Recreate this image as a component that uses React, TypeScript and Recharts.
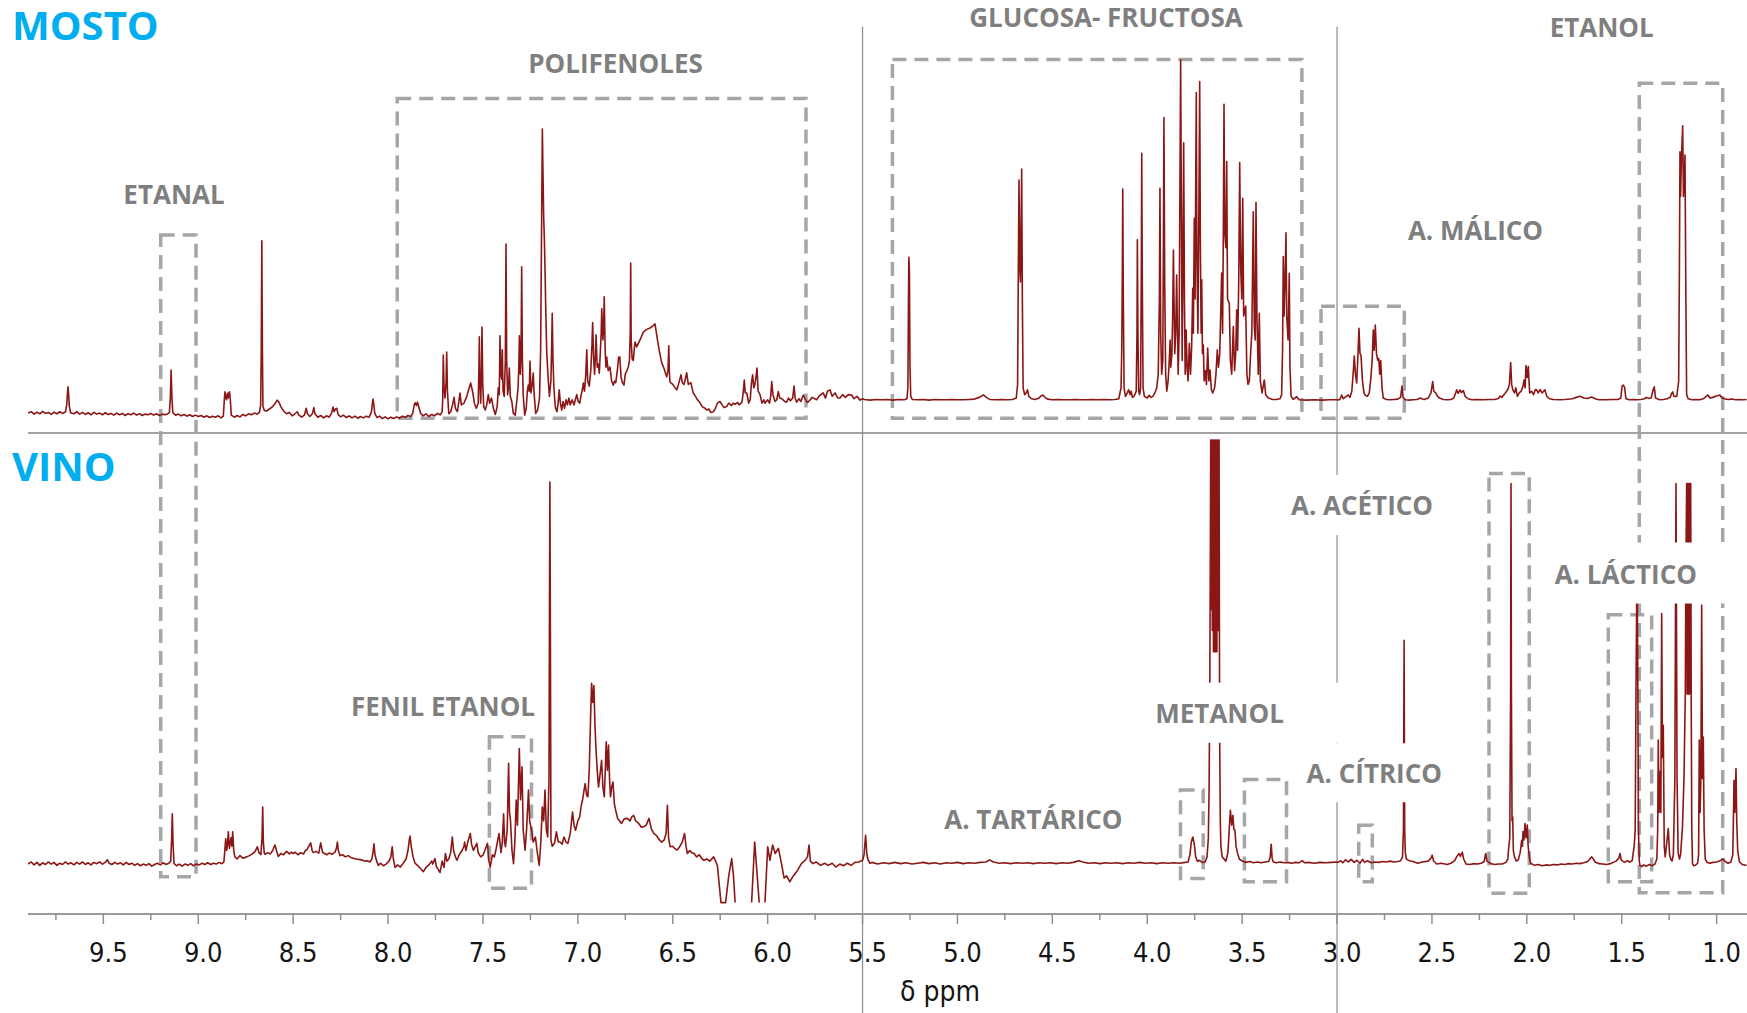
import React from 'react';
import { ComposedChart, Line, XAxis, YAxis, ReferenceLine, ReferenceArea, ReferenceDot } from 'recharts';

type Pt = [number, number | null];

// ---------- MOSTO spectrum: [δ ppm, intensity] ----------
const MOSTO_AROMATIC: Pt[] = [
  [9.897,-3.4],[9.88,-3.0],[9.865,-3.7],[9.85,-3.1],[9.835,-3.6],[9.82,-2.9],[9.805,-3.5],[9.79,-3.2],[9.775,-3.8],[9.76,-3.1],
  [9.745,-3.6],[9.73,-3.0],[9.715,-3.5],[9.70,-3.1],[9.693,-1.0],[9.689,2.5],[9.686,4.3],[9.683,2.0],[9.679,-1.5],[9.672,-3.3],
  [9.655,-3.6],[9.64,-3.0],[9.625,-3.7],[9.61,-3.2],[9.595,-3.8],[9.58,-3.3],[9.565,-3.9],[9.55,-3.2],[9.535,-3.7],[9.52,-3.4],
  [9.505,-3.9],[9.49,-3.3],[9.475,-3.8],[9.46,-3.5],[9.445,-4.0],[9.43,-3.4],[9.415,-3.9],[9.40,-3.5],[9.385,-4.1],[9.37,-3.6],
  [9.355,-3.9],[9.34,-3.4],[9.325,-4.0],[9.31,-3.6],[9.295,-4.1],[9.28,-3.7],[9.265,-3.9],[9.25,-3.5],[9.235,-4.0],[9.22,-3.6],
  [9.205,-4.1],[9.19,-3.7],[9.175,-3.9],[9.16,-3.6],[9.152,-3.2],[9.147,1.0],[9.143,9.2],[9.139,1.5],[9.134,-3.3],[9.12,-4.0],
  [9.105,-3.7],[9.09,-4.2],[9.075,-3.8],[9.06,-4.3],[9.045,-3.9],[9.03,-4.4],[9.015,-4.0],[9.0,-4.4],[8.985,-4.1],[8.97,-4.6],
  [8.955,-4.2],[8.94,-4.7],[8.925,-4.3],[8.91,-4.6],[8.895,-4.2],[8.88,-4.8],[8.868,-4.3],[8.862,1.0],[8.859,2.8],[8.855,1.2],
  [8.851,0.5],[8.846,2.4],[8.842,1.0],[8.838,2.6],[8.835,2.8],[8.831,0.5],[8.826,-4.0],[8.81,-4.6],[8.795,-4.1],[8.78,-4.5],
  [8.765,-3.8],[8.75,-4.2],[8.735,-3.6],[8.72,-3.9],[8.705,-3.4],[8.69,-3.7],[8.678,-3.2],[8.671,-1.0],[8.668,15],[8.665,47],
  [8.662,15],[8.659,-1.5],[8.652,-2.6],[8.64,-2.8],[8.625,-2.2],[8.61,-1.6],[8.595,-0.6],[8.584,0.4],[8.575,-0.2],[8.565,-1.5],
  [8.55,-2.8],[8.535,-3.6],[8.52,-3.2],[8.505,-4.2],[8.49,-3.6],[8.478,-3.0],[8.47,-4.0],[8.455,-4.6],[8.44,-3.9],[8.431,-2.0],
  [8.425,-3.6],[8.412,-4.4],[8.398,-3.5],[8.391,-1.8],[8.385,-3.6],[8.37,-4.6],[8.355,-4.1],[8.34,-4.8],[8.325,-4.2],[8.31,-4.6],
  [8.298,-3.5],[8.29,-1.6],[8.284,-3.0],[8.277,-2.2],[8.270,-2.0],[8.263,-3.8],[8.25,-4.5],[8.235,-4.0],[8.22,-4.7],[8.205,-4.2],
  [8.19,-4.8],[8.175,-4.3],[8.16,-4.9],[8.145,-4.4],[8.13,-4.8],[8.115,-4.3],[8.10,-4.6],[8.088,-3.2],[8.082,-0.5],[8.079,0.7],
  [8.076,-0.5],[8.07,-3.5],[8.058,-4.7],[8.045,-4.3],[8.03,-5.0],[8.015,-4.5],[8.0,-5.1],[7.985,-4.6],[7.97,-5.0],[7.955,-4.5],
  [7.94,-4.9],[7.925,-4.3],[7.91,-4.6],[7.895,-4.1],[7.88,-4.4],[7.87,-3.5],[7.862,-1.0],[7.857,-0.4],[7.85,-1.2],[7.845,-0.2],
  [7.838,-1.6],[7.828,-3.5],[7.815,-4.2],[7.80,-3.6],[7.785,-4.4],[7.77,-3.8],[7.755,-4.2],[7.74,-3.5],[7.725,-3.9],[7.715,-3.0],
];

const MOSTO_POLYPHENOL: Pt[] = [
  [7.712,0.5],[7.709,13.6],[7.705,4.0],[7.700,1.0],[7.694,6.0],[7.691,14.5],[7.687,3.0],[7.680,-3.6],[7.67,-3.0],[7.66,-1.0],
  [7.6525,1.2],[7.645,-2.0],[7.635,-3.0],[7.628,-0.5],[7.621,2.5],[7.614,-1.0],[7.60,-0.5],[7.585,1.5],[7.575,3.5],[7.5645,5.4],
  [7.555,3.0],[7.545,-0.5],[7.535,-2.0],[7.525,-0.5],[7.521,10],[7.519,18.9],[7.516,6],[7.512,-0.5],[7.508,8],[7.505,21.8],
  [7.501,5],[7.496,-1.5],[7.488,-2.5],[7.48,-1.0],[7.472,2.0],[7.465,-0.5],[7.455,1.0],[7.445,-2.0],[7.435,-3.8],[7.425,-1.5],
  [7.419,4.0],[7.414,2.0],[7.410,19.2],[7.406,8.0],[7.401,6.5],[7.398,15.1],[7.394,3.0],[7.388,1.5],[7.382,12.0],[7.3785,46.1],
  [7.375,12.0],[7.370,2.0],[7.365,4.0],[7.361,9.8],[7.356,1.5],[7.348,0.0],[7.34,-3.5],[7.33,-4.0],[7.322,0.0],[7.315,4.0],
  [7.311,10.0],[7.308,19.2],[7.303,8.0],[7.299,14.0],[7.296,39.4],[7.292,12.0],[7.288,2.0],[7.28,-4.0],[7.272,-2.0],[7.266,3.0],
  [7.261,4.8],[7.256,3.0],[7.252,11.8],[7.247,2.5],[7.24,5.0],[7.235,8.3],[7.23,2.0],[7.222,-3.5],[7.212,-2.5],[7.202,1.0],
  [7.196,15.0],[7.194,30.0],[7.190,58.0],[7.187,79.7],[7.184,68.0],[7.180,54.0],[7.176,46.8],[7.172,36.0],[7.169,26.8],[7.164,14.6],
  [7.158,8.3],[7.150,1.5],[7.142,6.0],[7.138,16.0],[7.135,25.8],[7.131,12.0],[7.126,4.0],[7.12,-1.0],[7.117,-2.0],[7.11,-3.0],
  [7.104,-0.5],[7.098,3.4],[7.092,-0.5],[7.085,-2.5],[7.078,0.0],[7.07,-2.0],[7.062,0.5],[7.055,-1.0],[7.047,1.0],[7.04,-1.0],
  [7.03,0.5],[7.02,-1.0],[7.013,0.5],[7.006,2.0],[6.998,0.0],[6.99,-0.5],[6.982,2.0],[6.976,3.5],[6.971,5.4],[6.965,3.0],
  [6.958,8.0],[6.953,15.1],[6.948,6.0],[6.94,4.5],[6.932,9.0],[6.926,16.0],[6.922,23.1],[6.917,13.0],[6.912,8.0],[6.907,14.0],
  [6.904,19.5],[6.898,10.0],[6.892,11.0],[6.887,8.3],[6.882,14.0],[6.877,20.0],[6.874,27.1],[6.868,18.0],[6.864,22.0],[6.861,30.6],
  [6.856,15.0],[6.852,10.0],[6.848,13.0],[6.84,9.0],[6.831,10.1],[6.822,6.0],[6.813,4.8],[6.806,6.0],[6.8,5.5],[6.792,9.0],
  [6.785,13.0],[6.779,13.0],[6.772,7.0],[6.765,5.5],[6.757,4.8],[6.75,8.0],[6.742,9.0],[6.734,10.1],[6.728,12.0],[6.724,20.0],
  [6.7215,40.5],[6.719,18.0],[6.714,12.5],[6.708,12.0],[6.699,17.4],[6.69,16.0],[6.6725,18.0],[6.655,20.3],[6.637,21.1],[6.62,21.5],
  [6.602,22.2],[6.5935,22.7],[6.5845,19.5],[6.572,15.1],[6.558,11.3],[6.545,9.5],[6.532,7.2],[6.525,9.0],[6.521,16.3],[6.518,9.0],
  [6.5145,5.7],[6.50,5.0],[6.49,4.2],[6.479,3.4],[6.47,5.0],[6.4565,7.8],[6.45,5.5],[6.44,5.0],[6.4265,8.4],[6.418,5.0],
  [6.405,5.5],[6.392,2.5],[6.38,1.5],[6.37,0.5],[6.356,-0.4],[6.345,-1.5],[6.33,-2.0],[6.321,-2.5],[6.31,-2.2],[6.30,-3.2],
  [6.286,-3.0],[6.275,-2.0],[6.265,-0.5],[6.251,0.0],[6.24,-1.0],[6.23,-1.8],[6.216,-1.5],[6.205,-0.5],[6.19,-1.2],[6.181,-0.5],
  [6.17,-0.8],[6.158,-0.3],[6.15,-1.0],[6.135,-0.2],[6.128,3.0],[6.123,6.3],[6.118,2.5],[6.11,2.5],[6.1,-0.5],[6.092,0.5],
  [6.085,5.5],[6.079,7.8],[6.073,4.0],[6.067,5.0],[6.063,6.5],[6.056,9.8],[6.05,3.0],[6.04,2.0],[6.03,-0.5],[6.02,0.5],
  [6.014,-0.5],[6.0,0.5],[5.99,-0.5],[5.984,1.5],[5.9785,5.8],[5.972,2.0],[5.961,0.0],[5.952,0.5],[5.944,2.9],[5.936,1.0],
  [5.925,0.8],[5.9175,0.4],[5.91,0.0],[5.9,-0.2],[5.89,1.0],[5.88,0.2],[5.868,1.0],[5.861,4.5],[5.855,1.0],[5.847,-0.2],
  [5.835,0.8],[5.825,0.0],[5.812,1.9],[5.80,0.5],[5.79,-0.3],[5.777,0.4],[5.765,1.2],[5.7415,0.5],[5.73,1.5],[5.72,2.0],
  [5.707,2.5],[5.695,1.0],[5.685,3.0],[5.6715,3.4],[5.66,1.5],[5.645,2.5],[5.63,1.0],[5.619,1.0],[5.605,2.0],[5.59,1.2],
  [5.575,2.0],[5.557,1.9],[5.545,0.8],[5.53,1.5],[5.513,0.4],[5.50,0.8],
];

const MOSTO_SUGARS: Pt[] = [
  [5.49,0.6],[5.46,0.4],[5.43,0.6],[5.40,0.5],[5.37,0.6],[5.34,0.4],[5.31,0.6],[5.28,0.5],[5.266,0.8],[5.261,4.0],
  [5.258,30],[5.256,42.2],[5.253,38],[5.250,10],[5.246,1.5],[5.238,0.6],[5.21,0.5],[5.18,0.6],[5.15,0.4],[5.12,0.6],
  [5.09,0.5],[5.06,0.5],[5.03,0.6],[5.0,0.5],[4.97,0.5],[4.94,0.6],[4.91,0.7],[4.885,1.2],[4.863,1.9],[4.848,1.2],
  [4.83,0.6],[4.80,0.5],[4.77,0.6],[4.74,0.5],[4.71,0.6],[4.69,1.0],[4.683,5],[4.679,40],[4.6757,64.8],[4.672,40],
  [4.668,35],[4.665,50],[4.6615,68.0],[4.658,30],[4.654,4.0],[4.646,2.0],[4.638,2.5],[4.631,3.4],[4.624,1.5],[4.61,0.8],
  [4.59,0.6],[4.57,1.0],[4.56,1.6],[4.55,1.9],[4.54,1.3],[4.525,0.7],[4.50,0.5],[4.47,0.6],[4.44,0.5],[4.41,0.5],
  [4.38,0.6],[4.35,0.5],[4.32,0.5],[4.29,0.6],[4.26,0.5],[4.23,0.6],[4.20,0.5],[4.17,0.6],[4.15,0.8],[4.138,4.0],
  [4.134,16.0],[4.131,40],[4.129,62.2],[4.126,30],[4.122,4.0],[4.115,1.5],[4.105,2.5],[4.098,3.4],[4.09,2.0],[4.085,3.0],
  [4.078,1.2],[4.07,1.5],[4.058,3.0],[4.054,20],[4.052,47.3],[4.049,20],[4.045,3.0],[4.04,2.0],[4.035,4.0],[4.031,40],
  [4.029,72.6],[4.026,35],[4.022,4.0],[4.015,1.5],[4.0,1.0],[3.99,1.8],[3.98,1.2],[3.97,1.5],[3.96,2.5],[3.95,4.0],
  [3.942,8.0],[3.936,30],[3.933,62.4],[3.929,20],[3.924,8.0],[3.918,12],[3.915,45],[3.912,83.1],[3.908,35],[3.903,8.0],
  [3.897,3.0],[3.89,6.0],[3.884,12],[3.879,18],[3.876,10],[3.87,14],[3.866,25],[3.862,44.3],[3.859,30],[3.855,14],
  [3.85,20],[3.845,37],[3.841,22],[3.837,8.0],[3.832,20],[3.828,60],[3.824,100],[3.82,55],[3.816,12],[3.812,40],
  [3.808,75.7],[3.804,30],[3.8,8],[3.795,20.9],[3.79,10],[3.785,6],[3.778,17],[3.772,8],[3.766,16],[3.7605,33.1],
  [3.757,20],[3.752,53.6],[3.748,30],[3.745,60],[3.7415,90.4],[3.738,40],[3.733,20],[3.728,55],[3.7236,93.6],[3.72,45],
  [3.716,20],[3.713,35.6],[3.709,14],[3.7046,16.5],[3.70,6],[3.694,9],[3.688,5],[3.6814,15.6],[3.675,6],[3.6693,9.2],
  [3.662,3.5],[3.655,2.5],[3.645,4.0],[3.638,8],[3.6309,15.1],[3.625,10],[3.618,14],[3.6077,37.6],[3.603,20],[3.599,50],
  [3.5955,87],[3.592,50],[3.586,45],[3.5813,70.2],[3.577,30],[3.5676,28.7],[3.562,12],[3.555,8],[3.5465,21.9],[3.54,9],
  [3.534,14],[3.5286,26.8],[3.524,15],[3.518,35],[3.5128,69.9],[3.508,40],[3.502,30],[3.497,59.5],[3.492,25],[3.4812,27.9],
  [3.475,8.2],[3.469,5],[3.462,6],[3.4549,14.6],[3.449,20],[3.4412,55.5],[3.436,22],[3.431,18],[3.427,58.3],[3.422,25],
  [3.415,8],[3.4096,25.8],[3.404,6],[3.395,2.5],[3.3832,6.3],[3.376,2.0],[3.362,1.0],[3.34,0.6],[3.32,0.6],[3.30,0.8],
  [3.292,2.0],[3.287,15],[3.2832,42.4],[3.279,25],[3.274,35],[3.269,49.4],[3.265,25],[3.258,18],[3.2516,37.5],[3.248,10],
  [3.242,1.5],[3.23,0.6],[3.2126,1.4],[3.20,0.5],[3.16,0.4],[3.12,0.5],[3.08,0.4],[3.04,0.5],[3.0,0.5],
];

const MOSTO_ALIPHATIC: Pt[] = [
  [2.995,0.4],[2.985,0.6],[2.9755,1.9],[2.968,0.8],[2.958,1.2],[2.9407,1.9],[2.932,1.2],[2.922,3.0],[2.914,9.0],[2.9091,13.3],
  [2.903,8.0],[2.8965,5.4],[2.891,12],[2.8844,21.4],[2.879,14],[2.8738,13.6],[2.866,6.0],[2.858,2.5],[2.8527,1.9],[2.84,1.5],
  [2.83,2.5],[2.8227,6.3],[2.815,12],[2.809,20.9],[2.804,15],[2.7985,22.4],[2.792,14],[2.786,12.1],[2.7805,12.6],[2.775,8],
  [2.77,12],[2.763,4],[2.7563,1.0],[2.74,0.6],[2.72,0.5],[2.70,0.6],[2.68,0.7],[2.665,1.2],[2.6578,4.5],[2.652,1.2],
  [2.64,0.5],[2.62,0.4],[2.60,0.5],[2.58,0.6],[2.56,1.0],[2.554,0.8],[2.54,0.6],[2.52,1.0],[2.505,2.5],[2.496,5.8],
  [2.49,3.0],[2.48,2.5],[2.47,1.5],[2.46,1.0],[2.44,0.6],[2.42,0.5],[2.40,0.6],[2.385,1.0],[2.375,2.5],[2.3696,3.4],
  [2.362,2.4],[2.3522,3.4],[2.345,2.6],[2.3348,3.2],[2.325,1.5],[2.31,0.8],[2.29,0.5],[2.26,0.6],[2.23,0.5],[2.20,0.6],
  [2.17,0.6],[2.15,0.9],[2.14,1.6],[2.1325,1.2],[2.12,2.0],[2.10,3.5],[2.092,5],[2.0851,11.4],[2.08,5.0],[2.074,3.5],
  [2.065,2.5],[2.058,4.0],[2.05,1.5],[2.04,2.5],[2.03,3.0],[2.02,4.5],[2.015,6.3],[2.009,4.0],[2.0045,10.5],[1.998,7.0],
  [1.9924,10.2],[1.985,2.5],[1.975,3.0],[1.965,2.0],[1.955,3.5],[1.9481,3.4],[1.94,2.5],[1.93,3.5],[1.92,2.5],[1.9044,3.4],
  [1.895,1.5],[1.88,0.8],[1.86,0.6],[1.83,0.5],[1.80,0.6],[1.76,0.8],[1.74,1.2],[1.72,1.5],[1.70,1.0],[1.68,0.9],
  [1.6583,1.3],[1.64,0.8],[1.62,0.5],[1.58,0.5],[1.55,0.6],[1.52,0.6],[1.505,1.0],[1.498,4.5],[1.4918,4.8],[1.485,4.2],
  [1.478,0.8],[1.46,0.5],[1.44,0.6],[1.42,0.5],[1.40,0.6],[1.38,0.8],[1.37,1.2],[1.36,0.9],[1.345,1.0],[1.334,3.5],
  [1.3285,4.3],[1.322,1.0],[1.30,0.5],[1.28,0.6],[1.26,0.8],[1.245,1.2],[1.236,2.5],[1.2316,2.8],[1.225,1.5],[1.21,1.5],
  [1.2,6],[1.196,40],[1.1931,73.1],[1.19,60],[1.186,70],[1.1789,80.7],[1.175,60],[1.171,65],[1.1667,72.1],[1.162,30],
  [1.158,2.0],[1.15,0.8],[1.13,0.5],[1.11,0.6],[1.09,0.5],[1.07,0.8],[1.055,1.5],[1.0456,1.9],[1.035,1.0],[1.02,1.2],
  [1.005,1.5],[0.9823,1.9],[0.975,1.2],[0.96,0.8],[0.94,0.6],[0.92,0.7],[0.90,0.5],[0.88,0.6],[0.86,0.5],[0.842,0.6],
];

// ---------- VINO spectrum: [δ ppm, intensity] (null = trace leaves the frame) ----------
const VINO_AROMATIC: Pt[] = [
  [9.897,-0.2],[9.88,0.3],[9.865,-0.4],[9.85,0.2],[9.835,-0.5],[9.82,0.1],[9.805,-0.3],[9.79,0.3],[9.775,-0.2],[9.76,0.2],
  [9.745,-0.5],[9.73,0.0],[9.715,-0.3],[9.70,0.3],[9.685,-0.2],[9.67,0.1],[9.655,-0.4],[9.64,0.2],[9.625,-0.2],[9.61,0.3],
  [9.595,-0.3],[9.58,0.1],[9.565,-0.4],[9.55,0.2],[9.535,-0.1],[9.52,0.3],[9.505,-0.2],[9.49,0.2],[9.478,0.8],[9.47,0.0],
  [9.455,-0.3],[9.44,0.2],[9.425,-0.2],[9.41,0.1],[9.395,-0.4],[9.38,0.2],[9.365,-0.3],[9.35,0.0],[9.335,-0.5],[9.32,-0.1],
  [9.305,-0.6],[9.29,-0.2],[9.275,-0.5],[9.26,-0.1],[9.245,-0.7],[9.23,-0.3],[9.215,0.0],[9.20,-0.4],[9.185,0.1],[9.17,-0.3],
  [9.155,0.0],[9.145,0.5],[9.14,6.0],[9.1367,11.7],[9.133,5.0],[9.128,0.0],[9.115,-0.6],[9.10,-0.2],[9.085,-0.7],[9.07,-0.2],
  [9.055,-0.5],[9.04,-0.1],[9.025,-0.6],[9.01,-0.2],[8.995,-0.4],[8.98,0.0],[8.965,-0.3],[8.95,0.1],[8.935,-0.3],[8.92,0.0],
  [8.905,-0.2],[8.89,0.2],[8.875,-0.1],[8.865,0.3],[8.86,3.0],[8.8553,5.8],[8.85,3.0],[8.846,4.5],[8.8416,7.4],[8.836,3.5],
  [8.8274,6.0],[8.823,4.0],[8.8185,7.4],[8.813,3.0],[8.807,1.5],[8.795,1.0],[8.78,1.8],[8.765,1.2],[8.745,1.5],[8.73,1.8],
  [8.715,2.2],[8.70,2.8],[8.689,3.9],[8.68,2.5],[8.67,2.0],[8.664,6],[8.6604,13.3],[8.657,5],[8.652,2.4],[8.648,2.1],
  [8.635,2.5],[8.62,2.2],[8.608,3.0],[8.596,4.3],[8.588,3.0],[8.578,1.6],[8.565,2.3],[8.55,2.0],[8.535,2.8],[8.52,2.2],
  [8.51,2.6],[8.499,2.3],[8.49,2.6],[8.475,2.0],[8.46,2.5],[8.445,2.2],[8.436,3.0],[8.429,3.1],[8.4075,4.8],[8.40,3.0],
  [8.394,2.5],[8.38,2.8],[8.365,2.4],[8.355,4.8],[8.345,2.6],[8.335,2.3],[8.323,2.0],[8.31,2.4],[8.295,2.1],[8.28,2.6],
  [8.272,3.5],[8.267,5.0],[8.262,3.0],[8.253,1.8],[8.24,2.0],[8.225,1.5],[8.21,1.8],[8.195,1.3],[8.183,1.2],[8.17,1.0],
  [8.155,0.9],[8.14,0.8],[8.125,0.5],[8.11,0.6],[8.095,0.3],[8.085,1.0],[8.078,3.0],[8.074,4.6],[8.069,2.0],[8.06,0.5],
  [8.051,-0.5],[8.04,0.0],[8.025,-0.6],[8.01,-0.2],[7.995,0.5],[7.985,1.5],[7.978,3.9],[7.972,1.0],[7.963,-1.0],[7.95,-0.4],
  [7.935,-0.9],[7.92,0.0],[7.905,1.0],[7.895,3.0],[7.888,5.5],[7.884,6.4],[7.878,4.0],[7.868,1.5],[7.858,0.0],[7.845,-0.5],
  [7.83,-1.2],[7.814,-2.0],[7.80,-1.0],[7.785,-0.4],[7.77,0.5],[7.765,-0.2],[7.753,1.1],[7.745,-0.8],[7.735,-1.5],[7.726,-2.2],
  [7.715,0.5],[7.705,-1.0],
];

const VINO_POLYPHENOL: Pt[] = [
  [7.6978,2.3],[7.69,0.5],[7.68,1.0],[7.67,2.5],[7.6614,6.2],[7.655,3.0],[7.645,1.5],[7.637,0.7],[7.625,2.0],[7.61,3.0],
  [7.6,4.0],[7.5966,5.0],[7.59,3.0],[7.58,5.0],[7.5666,7.0],[7.56,4.5],[7.55,3.0],[7.54,4.0],[7.5323,4.7],[7.525,2.5],
  [7.512,1.5],[7.4998,1.9],[7.49,3.0],[7.476,4.7],[7.47,1.0],[7.462,-0.9],[7.45,2.0],[7.44,1.5],[7.43,3.5],[7.4154,7.0],
  [7.405,2.5],[7.398,5.0],[7.3911,11.7],[7.386,5.0],[7.381,3.9],[7.372,8.0],[7.3648,23.6],[7.36,12.0],[7.355,10.2],[7.347,3.0],
  [7.339,-0.1],[7.332,5.0],[7.3247,14.9],[7.318,9.0],[7.3084,27.1],[7.302,15.0],[7.2942,22.8],[7.288,8.0],[7.278,3.1],[7.27,8.0],
  [7.26,17.3],[7.254,10.0],[7.244,7.8],[7.235,5.0],[7.2236,6.2],[7.215,3.0],[7.2036,-0.5],[7.195,5.0],[7.1873,13.3],[7.18,10.0],
  [7.1731,17.3],[7.166,8.0],[7.159,6.2],[7.152,20],[7.1495,60],[7.1472,90.1],[7.145,60],[7.1417,5.5],[7.135,4.0],[7.123,4.7],
  [7.113,7.4],[7.103,5.0],[7.093,5.0],[7.083,4.5],[7.073,6.2],[7.0624,5.0],[7.0524,4.7],[7.04,7.0],[7.0281,12.1],[7.02,9.0],
  [7.012,7.8],[7.0,10.0],[6.99,11.0],[6.9818,13.7],[6.975,15.0],[6.9617,18.8],[6.953,16.0],[6.947,15.7],[6.94,22.0],[6.9325,35.0],
  [6.9275,42.5],[6.922,38],[6.9154,42.0],[6.91,33],[6.905,27.5],[6.898,22],[6.8912,18.0],[6.883,21],[6.8748,24.3],[6.868,18],
  [6.8606,15.7],[6.8555,22],[6.8506,28.7],[6.8445,22],[6.8385,27.9],[6.833,20],[6.828,15.7],[6.8215,18],[6.8148,19.2],[6.8075,14],
  [6.8005,12.5],[6.79,10.5],[6.78,10.0],[6.77,9.4],[6.755,10.5],[6.74,10.6],[6.725,10.0],[6.715,11.0],[6.7057,11.3],[6.695,10.0],
  [6.6794,9.4],[6.665,8.5],[6.653,8.6],[6.64,9.0],[6.6251,10.6],[6.612,8.0],[6.5988,7.0],[6.585,6.5],[6.57,5.5],[6.5582,5.0],
  [6.545,5.5],[6.535,7.0],[6.5282,13.7],[6.522,6.0],[6.514,3.9],[6.5,4.0],[6.49,3.5],[6.4776,3.1],[6.465,3.8],[6.45,5.0],
  [6.4376,7.0],[6.43,4.0],[6.423,2.3],[6.41,3.0],[6.4,2.5],[6.387,2.3],[6.375,1.5],[6.36,2.0],[6.345,1.0],[6.3353,0.7],
  [6.32,1.0],[6.305,0.5],[6.2847,1.5],[6.2763,0.7],[6.265,-0.5],[6.2458,-9.3],[6.2215,-9.3],[6.205,-3.0],[6.1894,1.1],[6.18,-3.0],
  [6.1715,-9.3],[6.13,null],[6.0845,-9.3],[6.0682,5.0],[6.0445,-9.3],[6.03,null],[6.0139,-9.3],[5.9997,3.9],[5.988,0.7],[5.9739,4.3],
  [5.96,2.3],[5.9433,3.5],[5.927,-0.1],[5.9133,-3.5],[5.9,-3.0],[5.8833,-4.4],[5.865,-3.0],[5.8427,-1.7],[5.822,-0.1],[5.802,0.7],
  [5.79,1.5],[5.7821,4.3],[5.775,0.5],[5.7615,-0.1],[5.745,0.3],[5.7215,-0.5],[5.70,0.0],[5.681,-0.5],[5.66,0.0],[5.6409,-0.9],
  [5.62,-0.2],[5.601,-0.6],[5.58,0.0],[5.5603,-0.5],[5.54,0.2],[5.52,0.3],[5.4997,0.7],[5.492,2.0],[5.4839,6.6],[5.477,2.0],
  [5.47,0.7],[5.46,0.0],
];

const VINO_MIDDLE: Pt[] = [
  [5.45,0.2],[5.42,-0.2],[5.39,0.1],[5.36,-0.1],[5.33,0.2],[5.30,-0.1],[5.27,0.1],[5.24,-0.2],[5.21,0.0],[5.18,0.2],
  [5.15,-0.1],[5.12,0.1],[5.09,-0.2],[5.06,0.1],[5.03,0.0],[5.0,0.2],[4.97,-0.1],[4.94,0.1],[4.91,0.0],[4.88,0.2],
  [4.85,0.3],[4.83,0.8],[4.81,0.3],[4.78,0.0],[4.75,0.1],[4.72,-0.1],[4.69,0.1],[4.66,0.0],[4.63,0.1],[4.60,-0.1],
  [4.57,0.1],[4.54,0.0],[4.51,0.1],[4.48,-0.1],[4.45,0.1],[4.42,0.0],[4.39,0.2],[4.36,0.6],[4.34,0.3],[4.31,0.0],
  [4.28,0.1],[4.25,-0.1],[4.22,0.1],[4.19,0.0],[4.16,0.1],[4.13,-0.1],[4.10,0.1],[4.07,0.0],[4.04,0.2],[4.01,0.0],
  [3.98,0.1],[3.95,-0.1],[3.92,0.1],[3.89,0.0],[3.86,0.1],[3.83,0.0],[3.80,0.2],[3.785,0.3],[3.775,2.0],[3.768,5.0],
  [3.76,6.2],[3.752,4.5],[3.745,1.5],[3.735,0.4],[3.7273,0.7],[3.71,0.2],[3.6947,0.3],[3.685,1.5],[3.678,6],[3.674,18],
  [3.670,45],[3.667,80],[3.6655,100],[3.663,60],[3.660,100],[3.657,55],[3.654,100],[3.651,50],[3.648,100],[3.645,50],
  [3.642,100],[3.639,50],[3.636,100],[3.633,50],[3.630,100],[3.627,55],[3.624,100],[3.6215,100],[3.620,60],[3.6183,29.1],
  [3.615,10],[3.6119,3.9],[3.605,1.5],[3.5856,0.5],[3.575,2.5],[3.568,8],[3.5619,12.5],[3.555,9],[3.5487,11.3],[3.5435,8],
  [3.5381,7.8],[3.532,4],[3.5249,2.5],[3.515,1.0],[3.4986,0.5],[3.48,0.2],[3.46,0.4],[3.44,0.1],[3.42,0.3],[3.40,0.1],
  [3.38,0.3],[3.36,0.4],[3.352,1.5],[3.3468,4.5],[3.342,1.2],[3.3358,0.3],[3.32,0.1],[3.30,0.3],[3.28,0.1],[3.26,0.2],
  [3.24,0.0],[3.22,0.2],[3.20,0.1],[3.1835,0.6],[3.17,0.1],[3.15,0.2],[3.12,0.0],[3.09,0.2],[3.06,0.1],[3.03,0.2],[3.0,0.3],
];

const VINO_ALIPHATIC: Pt[] = [
  [2.995,0.2],[2.98,0.6],[2.97,0.1],[2.955,0.8],[2.94,0.3],[2.925,0.9],[2.91,0.2],[2.895,0.7],[2.88,0.0],[2.865,0.9],
  [2.855,0.2],[2.84,0.6],[2.82,0.1],[2.80,0.3],[2.78,0.2],[2.76,0.4],[2.74,0.3],[2.72,0.5],[2.70,0.3],[2.68,0.4],
  [2.665,0.6],[2.655,1.5],[2.65,8],[2.6467,52.7],[2.6435,8],[2.6403,2.5],[2.635,1.0],[2.62,0.6],[2.60,0.4],[2.575,0.0],
  [2.55,0.3],[2.52,0.5],[2.505,1.2],[2.4986,1.9],[2.492,0.6],[2.475,-0.2],[2.45,0.0],[2.42,-0.3],[2.40,0.0],[2.38,0.6],
  [2.37,1.5],[2.3574,2.3],[2.35,1.6],[2.34,2.6],[2.333,1.0],[2.32,-0.2],[2.30,-0.3],[2.28,-0.1],[2.26,-0.2],[2.24,0.0],
  [2.225,0.4],[2.2162,2.3],[2.21,0.5],[2.19,-0.1],[2.17,-0.3],[2.15,-0.2],[2.13,-0.2],[2.11,0.2],[2.1,1.0],[2.0966,3.1],
  [2.09,6.0],[2.0855,40],[2.0834,89.7],[2.0812,40],[2.078,10],[2.0745,10.9],[2.071,3.0],[2.065,1.5],[2.055,0.5],[2.045,0.8],
  [2.035,2.5],[2.0271,5.4],[2.023,4.0],[2.0202,7.5],[2.015,5.5],[2.0097,9.4],[2.004,6.0],[1.9976,9.0],[1.993,4.0],[1.987,1.5],
  [1.98,0.0],[1.96,-0.5],[1.94,-0.3],[1.92,-0.6],[1.90,-0.4],[1.88,-0.5],[1.86,-0.3],[1.84,-0.4],[1.82,-0.2],[1.80,-0.3],
  [1.78,-0.1],[1.76,-0.2],[1.74,0.0],[1.72,-0.1],[1.70,0.1],[1.68,0.4],[1.665,1.2],[1.6583,1.5],[1.65,1.0],[1.64,0.3],
  [1.62,-0.1],[1.60,-0.2],[1.58,-0.3],[1.56,-0.1],[1.545,0.2],[1.53,0.5],[1.515,1.2],[1.5092,2.3],[1.503,0.8],[1.495,0.5],
  [1.485,0.2],[1.47,0.6],[1.458,0.3],[1.445,0.6],[1.4338,4.3],[1.429,8],[1.4249,40],[1.421,63],[1.418,63],[1.415,40],
  [1.412,8],[1.4075,0.5],[1.4038,-0.5],[1.395,-0.8],[1.385,-0.4],[1.37,-0.7],[1.355,-0.3],[1.34,-0.6],[1.325,-0.2],[1.315,1.0],
  [1.3105,8],[1.3074,29.1],[1.3035,12],[1.2985,21.7],[1.294,12],[1.2895,59.0],[1.2855,25],[1.2811,32.6],[1.276,4],[1.271,1.5],
  [1.265,4],[1.2547,8.2],[1.248,2.0],[1.242,1.0],[1.235,0.5],[1.228,2.0],[1.22,20],[1.2142,89.7],[1.2085,20],[1.203,2.5],
  [1.196,1.0],[1.19,2.0],[1.18,8.5],[1.172,20],[1.165,40],[1.162,70],[1.1578,89.7],[1.1555,40],[1.1535,89.7],[1.151,40],
  [1.149,89.7],[1.1465,40],[1.1445,89.7],[1.142,40],[1.14,89.7],[1.1367,89.7],[1.134,40],[1.131,8],[1.127,-0.1],[1.12,-0.6],
  [1.11,-0.4],[1.10,0.0],[1.095,2.0],[1.0914,29.1],[1.087,12],[1.083,20],[1.0788,61],[1.0745,20],[1.0703,29.8],[1.066,8],
  [1.06,1.0],[1.05,0.2],[1.035,0.0],[1.02,0.2],[1.0,0.3],[0.985,0.5],[0.9649,1.0],[0.955,0.4],[0.94,0.0],[0.925,0.3],
  [0.915,2.0],[0.911,12],[0.9086,19.6],[0.904,12],[0.898,22.4],[0.894,10],[0.889,3.0],[0.88,0.3],[0.865,-0.3],[0.85,-0.5],[0.842,-0.4],
];

// ---------- axes ----------
const X_DOMAIN: [number, number] = [0.84, 9.897];
const X_TICKS = [9.75,9.5,9.25,9.0,8.75,8.5,8.25,8.0,7.75,7.5,7.25,7.0,6.75,6.5,6.25,6.0,5.75,5.5,5.25,5.0,4.75,4.5,4.25,4.0,3.75,3.5,3.25,3.0,2.75,2.5,2.25,2.0,1.75,1.5,1.25,1.0];
const MOSTO_Y_DOMAIN: [number, number] = [-150, 117.5];
const VINO_Y_DOMAIN: [number, number] = [-12, 204];
const SEPARATOR_LEVEL = 101.7; // vino units
const REGION_LINES = [5.5, 3.0];

// ---------- dashed region boxes: [ppmFrom, ppmTo, top, bottom, axis] ----------
type Box = [number, number, number, number, 'm' | 'v'];
const BOXES: Box[] = [
  [9.1978, 9.0118, 48.7, -139.1, 'm'],
  [7.9517, 5.7979, 88.7, -4.9, 'm'],
  [5.3427, 3.1852, 100.1, -4.9, 'm'],
  [3.0845, 2.6456, 27.9, -4.9, 'm'],
  [1.4074, 0.968, 93.1, -143.8, 'm'],
  [7.466, 7.2442, 29.9, -5.9, 'v'],
  [3.8248, 3.7052, 17.3, -3.6, 'v'],
  [3.4881, 3.2663, 19.8, -4.4, 'v'],
  [2.8859, 2.8143, 9.0, -4.4, 'v'],
  [2.1994, 1.9871, 92.1, -7.1, 'v'],
  [1.5707, 1.3421, 58.7, -4.4, 'v'],
];

// ---------- text annotations ----------
type Note = { text: string; ppm: number; level: number; axis: 'm' | 'v'; kind: 'title' | 'tag' | 'unit' };
const NOTES: Note[] = [
  { text: 'MOSTO', ppm: 9.981, level: 105.7, axis: 'm', kind: 'title' },
  { text: 'VINO', ppm: 9.981, level: 90.3, axis: 'v', kind: 'title' },
  { text: 'ETANAL', ppm: 9.1277, level: 57.8, axis: 'm', kind: 'tag' },
  { text: 'POLIFENOLES', ppm: 6.8016, level: 96.1, axis: 'm', kind: 'tag' },
  { text: 'GLUCOSA- FRUCTOSA', ppm: 4.2173, level: 109.7, axis: 'm', kind: 'tag' },
  { text: 'ETANOL', ppm: 1.6056, level: 106.8, axis: 'm', kind: 'tag' },
  { text: 'A. MÁLICO', ppm: 2.2705, level: 47.3, axis: 'm', kind: 'tag' },
  { text: 'FENIL ETANOL', ppm: 7.7105, level: 34.8, axis: 'v', kind: 'tag' },
  { text: 'A. TARTÁRICO', ppm: 4.5998, level: 8.1, axis: 'v', kind: 'tag' },
  { text: 'A. ACÉTICO', ppm: 2.8685, level: 82.3, axis: 'v', kind: 'tag' },
  { text: 'METANOL', ppm: 3.6188, level: 33.2, axis: 'v', kind: 'tag' },
  { text: 'A. CÍTRICO', ppm: 2.8037, level: 18.9, axis: 'v', kind: 'tag' },
  { text: 'A. LÁCTICO', ppm: 1.4786, level: 66.1, axis: 'v', kind: 'tag' },
  { text: 'δ ppm', ppm: 5.3027, level: -175.4, axis: 'm', kind: 'unit' },
];

// white backing behind some tags: [left, right, above, below] in px around the anchor
const COVER: Record<string, [number, number, number, number]> = {
  'A. ACÉTICO': [81, 80, 40, 20],
  'METANOL': [80, 122, 40, 20],
  'A. CÍTRICO': [79, 86, 40, 19],
  'A. LÁCTICO': [76, 101, 41, 20],
};

const toRows = (pts: Pt[]) => pts.map(([ppm, v]) => ({ ppm, v }));
const mostoRows = toRows([...MOSTO_AROMATIC, ...MOSTO_POLYPHENOL, ...MOSTO_SUGARS, ...MOSTO_ALIPHATIC]);
const vinoRows = toRows([...VINO_AROMATIC, ...VINO_POLYPHENOL, ...VINO_MIDDLE, ...VINO_ALIPHATIC]);

const SPEC_COLOR = '#8b1616';
const TAG_FONT = "'Open Sans', 'Noto Sans', sans-serif";
const AXIS_FONT = "'DejaVu Sans Condensed', 'DejaVu Sans', sans-serif";

function AxisTick(props: any) {
  const { x, y, payload } = props;
  const val = Number(payload?.value);
  const major = Math.abs(val * 2 - Math.round(val * 2)) < 1e-6;
  return (
    <g>
      <line x1={x} x2={x} y1={y} y2={y + (major ? 10 : 6)} stroke="#8f8f8f" strokeWidth={1.5} />
      {major ? (
        <text x={x + 5} y={y + 48} textAnchor="middle" fontFamily={AXIS_FONT} fontSize={27} fill="#151515">
          {val.toFixed(1)}
        </text>
      ) : null}
    </g>
  );
}

const makeNoteLabel = (n: Note) => (props: any) => {
  const vb = props.viewBox || { x: 0, y: 0, width: 0, height: 0 };
  const cx = vb.x + (vb.width || 0) / 2;
  const cy = vb.y + (vb.height || 0) / 2;
  const cover = COVER[n.text];
  let style: any;
  if (n.kind === 'title') style = { fontFamily: TAG_FONT, fontWeight: 700, fontSize: 40, fill: '#00aeef', anchor: 'start' };
  else if (n.kind === 'unit') style = { fontFamily: AXIS_FONT, fontWeight: 400, fontSize: 28, fill: '#151515', anchor: 'start' };
  else style = { fontFamily: TAG_FONT, fontWeight: 700, fontSize: 26, fill: '#7f7f7f', anchor: 'middle' };
  return (
    <g>
      {cover ? (
        <rect x={cx - cover[0]} y={cy - cover[2]} width={cover[0] + cover[1]} height={cover[2] + cover[3]} fill="#ffffff" />
      ) : null}
      <text x={cx} y={cy} textAnchor={style.anchor} fontFamily={style.fontFamily} fontWeight={style.fontWeight} fontSize={style.fontSize} fill={style.fill}>
        {n.text}
      </text>
    </g>
  );
};

export default function App() {
  return (
    <div style={{ position: 'absolute', left: 0, top: 0, width: 1747, height: 1013, background: '#ffffff' }}>
      <ComposedChart width={1747} height={1013} margin={{ top: 0, right: 0, bottom: 0, left: 28 }}>
        <XAxis
          dataKey="ppm"
          type="number"
          domain={X_DOMAIN}
          reversed
          allowDataOverflow
          ticks={X_TICKS}
          interval={0}
          tickLine={false}
          tickSize={0}
          tickMargin={0}
          height={99}
          axisLine={{ stroke: '#9b9b9b', strokeWidth: 2 }}
          tick={(p: any) => <AxisTick {...p} />}
        />
        <YAxis yAxisId="m" hide type="number" domain={MOSTO_Y_DOMAIN} allowDataOverflow />
        <YAxis yAxisId="v" hide type="number" domain={VINO_Y_DOMAIN} allowDataOverflow />
        <ReferenceLine yAxisId="v" y={SEPARATOR_LEVEL} stroke="#a3a3a3" strokeWidth={2} />
        {REGION_LINES.map((p) => (
          <ReferenceLine
            key={`rl-${p}`}
            yAxisId="m"
            segment={[{ x: p, y: 109.7 }, { x: p, y: -179 }]}
            ifOverflow="visible"
            stroke="#8c8c8c"
            strokeWidth={1.2}
          />
        ))}
        <Line
          yAxisId="m"
          data={mostoRows}
          dataKey="v"
          type="linear"
          stroke={SPEC_COLOR}
          strokeWidth={1.6}
          strokeLinejoin="round"
          dot={false}
          activeDot={false}
          isAnimationActive={false}
        />
        <Line
          yAxisId="v"
          data={vinoRows}
          dataKey="v"
          type="linear"
          stroke={SPEC_COLOR}
          strokeWidth={1.6}
          strokeLinejoin="round"
          dot={false}
          activeDot={false}
          isAnimationActive={false}
        />
        {BOXES.map((b, i) => (
          <ReferenceArea
            key={`box-${i}`}
            yAxisId={b[4]}
            x1={b[0]}
            x2={b[1]}
            y1={b[2]}
            y2={b[3]}
            ifOverflow="visible"
            fill="none"
            fillOpacity={0}
            stroke="#a6a6a6"
            strokeWidth={3.5}
            strokeDasharray="14 8"
          />
        ))}
        {NOTES.map((n, i) => (
          <ReferenceDot
            key={`note-${i}`}
            yAxisId={n.axis}
            x={n.ppm}
            y={n.level}
            r={0}
            fill="none"
            stroke="none"
            ifOverflow="visible"
            label={makeNoteLabel(n)}
          />
        ))}
      </ComposedChart>
    </div>
  );
}
